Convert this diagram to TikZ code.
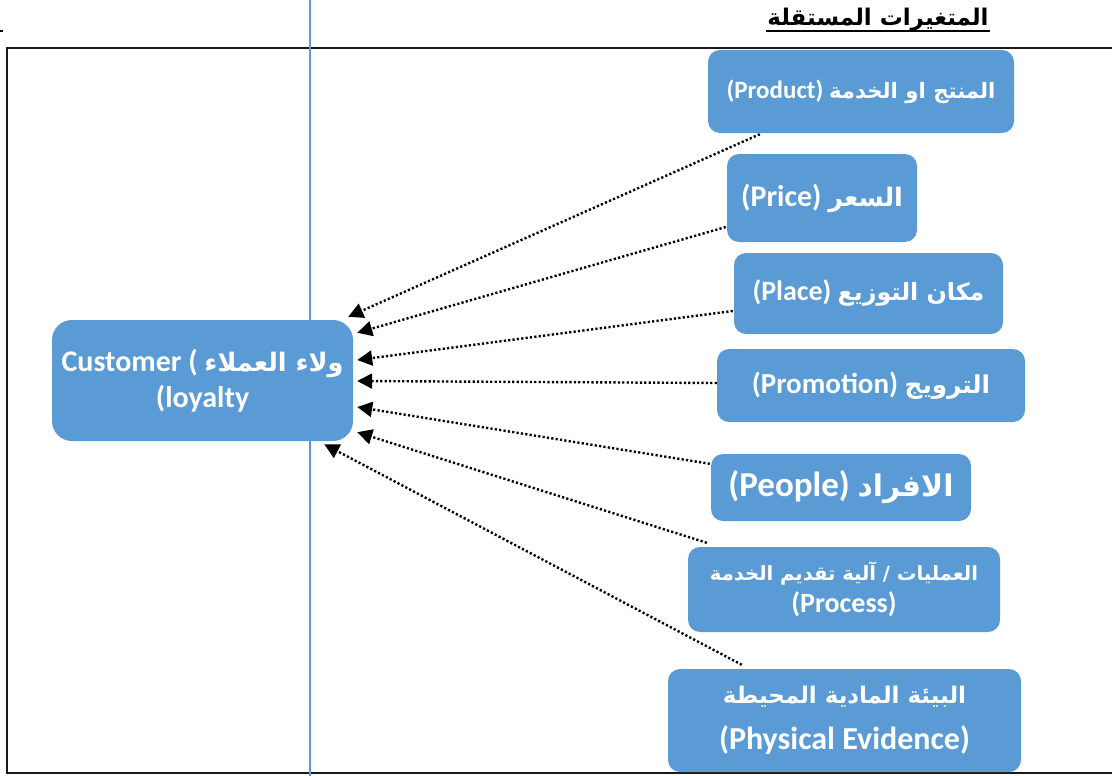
\documentclass[tikz,border=0pt]{standalone}
\usepackage{fontspec}
\setmainfont{Carlito}
\newfontfamily\arabicfont[Script=Arabic,Scale=0.85]{DejaVu Sans}
\TeXXeTstate=1
\usetikzlibrary{arrows.meta,calc}
\definecolor{boxblue}{HTML}{5B9BD5}
\definecolor{rulegray}{HTML}{1A1A1A}
\newcommand{\artxt}[1]{{\arabicfont\beginR #1\endR}}
\newcommand{\fs}[2]{\bfseries\fontsize{#1}{#2}\selectfont}
\tikzset{
  box/.style={draw=none, fill=boxblue, rounded corners=12pt, text=white,
    align=center, inner sep=0pt},
  arr/.style={line width=2.4pt, dash pattern=on 2.2pt off 2.2pt,
    -{Triangle[length=15pt,width=15pt]}},
}
\begin{document}
\begin{tikzpicture}[x=1pt,y=-1pt]
\useasboundingbox (0,0) rectangle (1112,776);
% frame
\draw[line width=2.6pt, rulegray] (1114,48) -- (7,48) -- (7,773) -- (1114,773);
\draw[line width=1.5pt] (0,31) -- (3,31);
% blue vertical rule
\draw[line width=1.3pt, boxblue] (310,0) -- (310,776);
% title
\node[inner sep=0pt, font={\fs{27}{30}}] (title) at (878,20)
  {\artxt{المتغيرات المستقلة}};
\draw[line width=1.8pt] (766,31) -- (990,31);
% nodes
\node[box, rounded corners=20pt, minimum width=301, minimum height=121,
  font={\fs{30}{36}}] (cust) at (202.5,380.5)
  {Customer ( \artxt{ولاء العملاء}\\(loyalty};
\node[box, minimum width=306, minimum height=83, font={\fs{25}{29}}] (prod) at (861,91.5)
  {(Product) \artxt{المنتج او الخدمة}};
\node[box, minimum width=190, minimum height=88, font={\fs{30}{34}}] (price) at (822,198)
  {(Price) \artxt{السعر}};
\node[box, minimum width=269, minimum height=81, font={\fs{28}{33}}] (place) at (868.5,293.5)
  {(Place) \artxt{مكان التوزيع}};
\node[box, minimum width=308, minimum height=73, font={\fs{29}{33}}] (promo) at (871,385.5)
  {(Promotion) \artxt{الترويج}};
\node[box, minimum width=260, minimum height=67, font={\fs{35}{40}}] (people) at (841,487.5)
  {(People) \artxt{الافراد}};
\node[box, minimum width=312, minimum height=85, font={\fs{28}{32}}] (proc) at (844,589.5)
  {{\fontsize{23}{32}\selectfont\artxt{العمليات / آلية تقديم الخدمة}}\\(Process)};
\node[box, minimum width=353, minimum height=103, font={\fs{32}{46}}] (phys) at (844.5,720.5)
  {{\fontsize{27}{46}\selectfont\artxt{البيئة المادية المحيطة}}\\(Physical Evidence)};
% connector end points
\coordinate (s1) at ($(prod.south west)+(52,1)$);
\coordinate (s2) at ($(price.west)+(-1,29)$);
\coordinate (s3) at ($(place.west)+(-1,17.5)$);
\coordinate (s4) at ($(promo.west)+(0,-2.5)$);
\coordinate (s5) at ($(people.north west)+(-1,10)$);
\coordinate (s6) at ($(proc.north west)+(19,-4)$);
\coordinate (s7) at ($(phys.north west)+(74,-4)$);
\coordinate (t1) at ($(cust.north east)+(-5,-3)$);
\coordinate (t2) at ($(cust.north east)+(4,13)$);
\coordinate (t3) at ($(cust.east)+(4,-20.5)$);
\coordinate (t4) at ($(cust.east)+(4,0.5)$);
\coordinate (t5) at ($(cust.east)+(4,26.5)$);
\coordinate (t6) at ($(cust.south east)+(4,-9)$);
\coordinate (t7) at ($(cust.south east)+(-29,3)$);
\foreach \i in {1,...,7} {\draw[arr] (s\i) -- (t\i);}
\end{tikzpicture}
\end{document}
